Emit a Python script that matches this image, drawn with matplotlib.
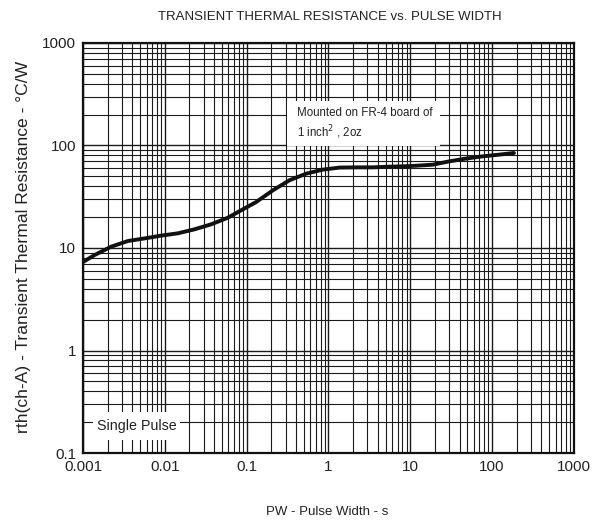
import matplotlib
matplotlib.use("Agg")
import matplotlib.pyplot as plt
from matplotlib.patches import Rectangle
import numpy as np

plt.rcParams['font.family'] = ['Liberation Sans', 'DejaVu Sans']

title = "TRANSIENT THERMAL RESISTANCE vs. PULSE WIDTH"
xlabel = "PW - Pulse Width - s"
ylabel = "rth(ch-A) - Transient Thermal Resistance - °C/W"

pulse_width = [0.001, 0.00139, 0.00221, 0.00354, 0.00565, 0.009, 0.0144, 0.023,
               0.0367, 0.0586, 0.0822, 0.131, 0.209, 0.334, 0.534, 0.851, 1.36,
               2.18, 3.47, 5.54, 9.7, 18.7, 29.9, 47.8, 76.1, 121.6, 185]
rth = [7.3, 8.55, 10.3, 11.7, 12.4, 13.2, 13.9, 15.2, 17.0, 19.7, 22.9, 28.1,
       36.5, 45.8, 53.1, 58.1, 60.9, 61.2, 61.2, 62.1, 62.9, 64.9, 70.0, 74.5,
       78.3, 81.4, 84.5]

xticks = [0.001, 0.01, 0.1, 1, 10, 100, 1000]
xticklabels = ["0.001", "0.01", "0.1", "1", "10", "100", "1000"]
yticks = [0.1, 1, 10, 100, 1000]
yticklabels = ["0.1", "1", "10", "100", "1000"]

fig = plt.figure(figsize=(5.95, 5.21), dpi=100)
ax = fig.add_axes([0.1395, 0.1305, 0.825, 0.787])
ax.set_xscale('log')
ax.set_yscale('log')
ax.set_xlim(0.001, 1000)
ax.set_ylim(0.1, 1000)

ax.set_xticks(xticks)
ax.set_xticklabels(xticklabels)
ax.set_yticks(yticks)
ax.set_yticklabels(yticklabels)
ax.xaxis.set_minor_locator(matplotlib.ticker.LogLocator(base=10, subs=np.arange(2, 10)))
ax.yaxis.set_minor_locator(matplotlib.ticker.LogLocator(base=10, subs=np.arange(2, 10)))
ax.xaxis.set_minor_formatter(matplotlib.ticker.NullFormatter())
ax.yaxis.set_minor_formatter(matplotlib.ticker.NullFormatter())
ax.tick_params(which='both', length=0, labelsize=11, colors='#222222', pad=5)

ax.grid(True, which='major', color='#1a1a1a', linewidth=1.0)
ax.grid(True, which='minor', color='#1a1a1a', linewidth=0.8)
ax.set_axisbelow(True)
for s in ax.spines.values():
    s.set_linewidth(1.6)
    s.set_color('#111111')

ax.plot(pulse_width, rth, color='#111111', linewidth=2.8, solid_capstyle='round', zorder=3)

# white label boxes hiding the grid
ax.add_patch(Rectangle((0.415, 0.749), 0.312, 0.110, transform=ax.transAxes,
                       facecolor='white', edgecolor='none', zorder=2.5))
ax.text(0.436, 0.829, "Mounted on FR-4 board of", transform=ax.transAxes,
        fontsize=8.3, color='#222222', va='center', ha='left', zorder=4)
ax.text(0.436, 0.783, "1 inch$^{2}$ , 2oz", transform=ax.transAxes,
        fontsize=8.3, color='#222222', va='center', ha='left', zorder=4)

ax.add_patch(Rectangle((0.020, 0.032), 0.178, 0.068, transform=ax.transAxes,
                       facecolor='white', edgecolor='none', zorder=2.5))
ax.text(0.110, 0.066, "Single Pulse", transform=ax.transAxes,
        fontsize=10.3, color='#222222', va='center', ha='center', zorder=4)

fig.text(0.555, 0.967, title, fontsize=9.5, color='#222222', ha='center', va='center')
fig.text(0.55, 0.018, xlabel, fontsize=9.5, color='#222222', ha='center', va='center')
fig.text(0.039, 0.526, ylabel, fontsize=12.6, color='#222222', ha='center', va='center',
         rotation=90)

fig.savefig("out.png", dpi=100)
